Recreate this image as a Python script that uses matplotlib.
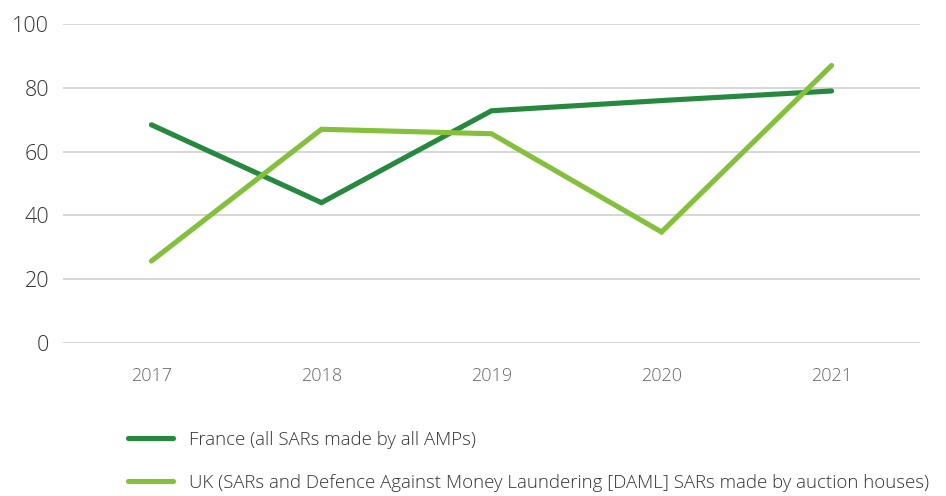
import matplotlib.pyplot as plt

years = ["2017", "2018", "2019", "2020", "2021"]
france = [68.4, 44, 72.8, 76, 79]
uk = [25.7, 67, 65.6, 34.8, 87]

france_label = "France (all SARs made by all AMPs)"
uk_label = "UK (SARs and Defence Against Money Laundering [DAML] SARs made by auction houses)"

dark_green = "#27893f"
light_green = "#84c03c"

plt.rcParams['font.family'] = ['Open Sans', 'DejaVu Sans']
plt.rcParams['font.weight'] = 'light'

fig = plt.figure(figsize=(9.46, 4.96), dpi=100)
ax = fig.add_axes([63 / 946, 1 - 343 / 496, (920 - 63) / 946, (343 - 24) / 496])

x = range(len(years))
l1, = ax.plot(x, france, color=dark_green, lw=3.7, solid_capstyle='round',
              solid_joinstyle='miter', label=france_label, zorder=3)
l2, = ax.plot(x, uk, color=light_green, lw=3.7, solid_capstyle='round',
              solid_joinstyle='miter', label=uk_label, zorder=3)

ax.set_xlim(-0.52, 4.52)
ax.set_ylim(0, 100)
ax.set_yticks(range(0, 101, 20))
ax.set_xticks(list(x))
ax.set_xticklabels(years)

for s in ax.spines.values():
    s.set_visible(False)
ax.grid(axis='y', color='#cccccc', lw=1.1)
ax.set_axisbelow(True)
ax.tick_params(axis='y', length=0, pad=10, labelsize=15.5, labelcolor='#333333')
ax.tick_params(axis='x', length=0, pad=17, labelsize=13, labelcolor='#666666')

fig.legend(handles=[l1, l2], loc='upper left', bbox_to_anchor=(111 / 946, 1 - 414 / 496),
           frameon=False, fontsize=13.45, handlelength=2.4, handletextpad=0.85,
           labelspacing=1.33, labelcolor='#333333')

fig.savefig("out.png", dpi=100)
